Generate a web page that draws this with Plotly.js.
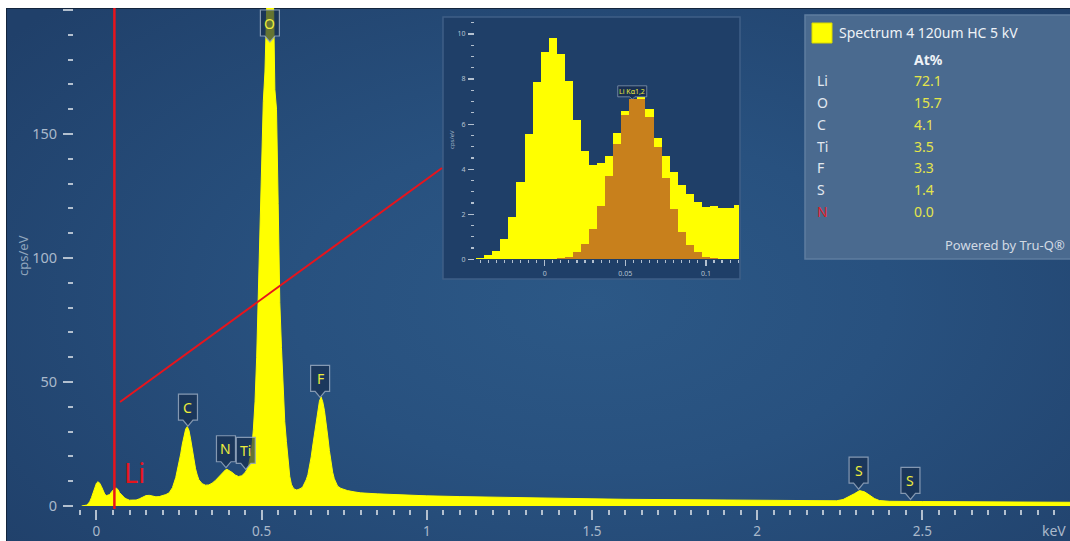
<!DOCTYPE html>
<html>
<head>
<meta charset="utf-8">
<script src="https://cdn.plot.ly/plotly-3.0.1.min.js"></script>
<style>
  html, body { margin: 0; padding: 0; background: #ffffff; }
  #panel {
    position: absolute; left: 6px; top: 8px; width: 1064px; height: 533px;
    box-sizing: border-box; border-left: 1px solid #13253d; border-top: 1px solid #13253d;
    background: radial-gradient(ellipse 70% 80% at 55% 55%, #2c5886 0%, #28517f 40%, #20406a 100%);
  }
  #chart { position: absolute; left: 0; top: 0; width: 1070px; height: 541px; }
</style>
</head>
<body>
<div id="panel"></div>
<div id="chart"></div>
<script>
// EDS spectrum, energy in keV and intensity in cps/eV
const energy = [
  -0.045,-0.040,-0.035,-0.030,-0.025,-0.020,-0.015,-0.010,-0.005,0.000,
  0.005,0.010,0.015,0.020,0.025,0.030,0.035,0.040,0.045,0.050,
  0.055,0.060,0.065,0.070,0.075,0.080,0.085,0.090,0.095,0.100,
  0.105,0.110,0.115,0.120,0.130,0.140,0.150,0.160,0.170,0.180,
  0.190,0.200,0.210,0.220,0.230,0.240,0.250,0.255,0.260,0.265,
  0.270,0.275,0.280,0.285,0.290,0.295,0.300,0.305,0.310,0.320,
  0.330,0.340,0.350,0.360,0.370,0.380,0.390,0.395,0.400,0.410,
  0.420,0.430,0.440,0.450,0.455,0.460,0.465,0.470,0.475,0.480,
  0.485,0.490,0.495,0.500,0.505,0.510,0.515,0.520,0.525,0.530,
  0.535,0.540,0.545,0.550,0.555,0.560,0.565,0.570,0.575,0.580,
  0.585,0.590,0.595,0.600,0.605,0.610,0.615,0.620,0.625,0.630,
  0.635,0.640,0.645,0.650,0.655,0.660,0.665,0.670,0.675,0.680,
  0.685,0.690,0.695,0.700,0.705,0.710,0.715,0.720,0.725,0.730,
  0.740,0.750,0.760,0.780,0.800,0.850,0.900,0.950,1.000,1.100,
  1.200,1.300,1.400,1.500,1.600,1.700,1.800,1.900,2.000,2.100,
  2.200,2.240,2.260,2.280,2.295,2.310,2.325,2.340,2.355,2.370,
  2.400,2.500,2.600,2.700,2.800,2.950
];
const cps = [
  0.00,0.07,0.19,0.37,0.89,1.86,3.45,5.55,7.86,9.22,
  9.81,9.13,7.91,6.18,4.81,4.19,4.26,4.59,5.59,6.60,
  7.10,7.19,6.66,5.37,4.59,3.86,3.30,2.90,2.56,2.34,
  2.38,2.29,2.29,2.41,2.9,3.6,4.2,4.3,4.0,3.7,
  3.8,4.1,4.6,5.3,7.4,11.5,17.5,21,25,28.5,
  31,32,30.5,27,23,18.5,15,12.5,10.6,9.0,
  8.4,8.5,9.2,10.3,11.8,13.2,14.5,14.8,14.5,13.6,
  12.5,11.9,12.2,13.5,14.6,16,19.5,23,31,42,
  60,84,108,134,163,175,212,238,248,240,
  212,168,160,122,82,64,46,34,26,18,
  12,8.8,7.4,6.8,6.5,6.6,6.8,7.2,7.9,9.0,
  10.6,12.6,15.8,19.8,24.6,29.4,34,38.5,42.3,44,
  42,38.6,34,28.2,22.4,17.3,13.6,11.0,9.2,8.0,
  7.1,6.6,6.2,5.7,5.3,4.9,4.6,4.3,4.1,3.8,
  3.5,3.3,3.1,2.9,2.7,2.6,2.4,2.3,2.2,2.1,
  2.0,2.1,2.6,3.8,5.0,6.2,5.7,4.4,3.0,2.2,
  1.9,1.8,1.7,1.6,1.6,1.5
];

// Fitted Li K-alpha component (5 eV channels)
const liFitEnergy = [
  0.000,0.005,0.010,0.015,0.020,0.025,0.030,0.035,0.040,0.045,
  0.050,0.055,0.060,0.065,0.070,0.075,0.080,0.085,0.090,0.095,
  0.100,0.105,0.110,0.115,0.120
];
const liFit = [
  0.01,0.02,0.04,0.12,0.31,0.68,1.35,2.37,3.70,5.12,
  6.41,7.10,7.10,6.30,5.00,3.59,2.22,1.23,0.64,0.31,
  0.12,0.04,0.02,0.01,0.00
];
const liKaEnergy = 0.0543;

// Peak markers
const lineLabels = ['C', 'N', 'Ti', 'O', 'F', 'S', 'S'];
const lineEnergies = [0.277, 0.392, 0.452, 0.525, 0.677, 2.307, 2.464];

// Quantification result
const spectrumName = 'Spectrum 4 120um HC 5 kV';
const quantElements = ['Li', 'O', 'C', 'Ti', 'F', 'S', 'N'];
const atPercent = [72.1, 15.7, 4.1, 3.5, 3.3, 1.4, 0.0];
const flaggedElements = ['N'];

// ---- geometry ----
const W = 1070, H = 541;
const M = { l: 74, r: 0, t: 8, b: 32 };
const plotW = W - M.l - M.r;
const plotH = H - M.t - M.b;
const pxX = px => (px - M.l) / plotW;
const pxY = py => (H - M.b - py) / plotH;

const yMax = 200.8;
const xRange = [-0.068, 2.947];
const insetX = [-0.0432, 0.1205];
const insetY = [0, 10.62];

const FONT = 'Noto Sans, Open Sans, sans-serif';
const TICK_COL = '#b3c0cf';
const LABEL_COL = '#aab9cb';
const PEAK_TXT = '#ecec3c';
const BOX_FILL = 'rgba(22,44,76,0.66)';
const BOX_LINE = 'rgba(150,168,190,0.85)';

function specAt(e) {
  for (let i = 1; i < energy.length; i++) {
    if (energy[i] >= e) {
      const t = (e - energy[i - 1]) / (energy[i] - energy[i - 1]);
      return cps[i - 1] + t * (cps[i] - cps[i - 1]);
    }
  }
  return cps[cps.length - 1];
}

// callout: box with a notch, in pixel units relative to the anchor point (y up)
function calloutPath(w, h, nw, nh, shift) {
  const hw = w / 2, b = shift + nh, t = shift + nh + h;
  return `M 0 ${shift} L ${-nw} ${b} L ${-hw} ${b} L ${-hw} ${t} L ${hw} ${t} L ${hw} ${b} L ${nw} ${b} Z`;
}

const shapes = [];
const annotations = [];

// inset frame
shapes.push({
  type: 'rect', xref: 'paper', yref: 'paper', layer: 'below',
  x0: pxX(443), x1: pxX(740), y0: pxY(279), y1: pxY(17),
  fillcolor: '#1f3f68', line: { color: '#3f5f86', width: 1.5 }
});
// results box
shapes.push({
  type: 'rect', xref: 'paper', yref: 'paper', layer: 'below',
  x0: pxX(805), x1: pxX(1071), y0: pxY(259), y1: pxY(15),
  fillcolor: '#4a6a8f', line: { color: '#5f7da0', width: 1.5 }
});
shapes.push({
  type: 'rect', xref: 'paper', yref: 'paper', layer: 'above',
  x0: pxX(812), x1: pxX(832), y0: pxY(43), y1: pxY(23),
  fillcolor: '#ffff00', line: { color: '#d8d800', width: 1 }
});

// Li K-alpha marker line and link to the zoomed view
shapes.push({
  type: 'line', xref: 'x', yref: 'paper', layer: 'above',
  x0: liKaEnergy, x1: liKaEnergy, y0: 0, y1: 1,
  line: { color: '#e8141c', width: 2.5 }
});
shapes.push({
  type: 'line', xref: 'paper', yref: 'paper', layer: 'above',
  x0: pxX(120), y0: pxY(402), x1: pxX(442), y1: pxY(168),
  line: { color: '#e8141c', width: 2 }
});

annotations.push({
  xref: 'x', yref: 'paper', x: liKaEnergy, y: pxY(472), xanchor: 'left', yanchor: 'middle',
  xshift: 8, text: 'Li', showarrow: false,
  font: { family: FONT, size: 27, color: '#e8141c' }
});

// element peak markers
const BW = 19, BH = 26, NW = 5, NH = 6;
lineLabels.forEach((lab, i) => {
  const e = lineEnergies[i];
  const h = specAt(e);
  let anchor, shift;
  if (h > yMax) { anchor = yMax; shift = -34; } else { anchor = h; shift = 2; }
  shapes.push({
    type: 'path', xref: 'x', yref: 'y', layer: 'above',
    xsizemode: 'pixel', ysizemode: 'pixel', xanchor: e, yanchor: anchor,
    path: calloutPath(BW, BH, NW, NH, shift),
    fillcolor: BOX_FILL, line: { color: BOX_LINE, width: 1.2 }
  });
  annotations.push({
    xref: 'x', yref: 'y', x: e, y: anchor, yshift: shift + NH + BH / 2,
    xanchor: 'center', yanchor: 'middle', text: lab, showarrow: false,
    font: { family: FONT, size: 14, color: PEAK_TXT }
  });
});

// Li K-alpha marker in the zoomed view
const liPeak = Math.max(...liFit);
shapes.push({
  type: 'path', xref: 'x2', yref: 'y2', layer: 'above',
  xsizemode: 'pixel', ysizemode: 'pixel', xanchor: liKaEnergy, yanchor: liPeak,
  path: calloutPath(29, 11, 2.5, 2.5, 0),
  fillcolor: 'rgba(22,44,76,0.8)', line: { color: BOX_LINE, width: 0.8 }
});
annotations.push({
  xref: 'x2', yref: 'y2', x: liKaEnergy, y: liPeak, yshift: 8,
  xanchor: 'center', yanchor: 'middle', text: 'Li Kα1,2', showarrow: false,
  font: { family: FONT, size: 7, color: PEAK_TXT }
});

// axis titles
annotations.push({
  xref: 'paper', yref: 'paper', x: pxX(23), y: pxY(256), textangle: -90,
  xanchor: 'center', yanchor: 'middle', text: 'cps/eV', showarrow: false,
  font: { family: FONT, size: 13, color: '#8fa4bc' }
});
annotations.push({
  xref: 'paper', yref: 'paper', x: pxX(1068), y: pxY(530),
  xanchor: 'right', yanchor: 'middle', text: 'keV', showarrow: false,
  font: { family: FONT, size: 14, color: LABEL_COL }
});
annotations.push({
  xref: 'paper', yref: 'paper', x: pxX(452), y: pxY(140), textangle: -90,
  xanchor: 'center', yanchor: 'middle', text: 'cps/eV', showarrow: false,
  font: { family: FONT, size: 6, color: '#9fb1c5' }
});

// results table
annotations.push({
  xref: 'paper', yref: 'paper', x: pxX(837), y: pxY(33),
  xanchor: 'left', yanchor: 'middle', text: spectrumName, showarrow: false,
  font: { family: FONT, size: 14, color: '#eef2f7' }
});
annotations.push({
  xref: 'paper', yref: 'paper', x: pxX(912), y: pxY(59),
  xanchor: 'left', yanchor: 'middle', text: '<b>At%</b>', showarrow: false,
  font: { family: FONT, size: 14, color: '#eef2f7' }
});
quantElements.forEach((el, i) => {
  const py = 81 + i * 21.7;
  const flagged = flaggedElements.includes(el);
  annotations.push({
    xref: 'paper', yref: 'paper', x: pxX(815), y: pxY(py),
    xanchor: 'left', yanchor: 'middle', text: el, showarrow: false,
    font: { family: FONT, size: 14, color: flagged ? '#e3202a' : '#e2e8ef' }
  });
  annotations.push({
    xref: 'paper', yref: 'paper', x: pxX(912), y: pxY(py),
    xanchor: 'left', yanchor: 'middle', text: atPercent[i].toFixed(1), showarrow: false,
    font: { family: FONT, size: 14, color: '#e4e54a' }
  });
});
annotations.push({
  xref: 'paper', yref: 'paper', x: pxX(1067), y: pxY(245),
  xanchor: 'right', yanchor: 'middle', text: 'Powered by Tru-Q®', showarrow: false,
  font: { family: FONT, size: 13, color: '#d2dae4' }
});

// ---- traces ----
const inE = [], inC = [];
energy.forEach((e, i) => { if (e >= -0.0401 && e <= 0.1201) { inE.push(e); inC.push(cps[i]); } });

const traces = [
  {
    type: 'scatter', mode: 'lines', x: energy, y: cps, xaxis: 'x', yaxis: 'y',
    fill: 'tozeroy', fillcolor: '#ffff00', line: { color: '#ffff00', width: 1 },
    hoverinfo: 'skip', showlegend: false
  },
  {
    type: 'bar', x: inE, y: inC, width: 0.005, xaxis: 'x2', yaxis: 'y2',
    marker: { color: '#ffff00', line: { width: 0 } }, hoverinfo: 'skip', showlegend: false
  },
  {
    type: 'bar', x: liFitEnergy, y: liFit, width: 0.005, xaxis: 'x2', yaxis: 'y2',
    marker: { color: '#c8801c', line: { width: 0 } }, hoverinfo: 'skip', showlegend: false
  }
];

const layout = {
  width: W, height: H, margin: M,
  paper_bgcolor: 'rgba(0,0,0,0)', plot_bgcolor: 'rgba(0,0,0,0)',
  showlegend: false, hovermode: false, barmode: 'overlay', bargap: 0,
  font: { family: FONT, color: LABEL_COL },
  xaxis: {
    range: xRange, anchor: 'free', position: 0,
    showgrid: false, zeroline: false, showline: false,
    tick0: 0, dtick: 0.5, ticks: 'outside', ticklen: 10, tickwidth: 2, tickcolor: TICK_COL,
    minor: { tick0: 0, dtick: 0.05, ticks: 'outside', ticklen: 5, tickwidth: 2, tickcolor: TICK_COL },
    ticklabelstandoff: 0,
    tickfont: { family: FONT, size: 13.5, color: LABEL_COL }
  },
  yaxis: {
    range: [0, yMax], domain: [pxY(506), 1], anchor: 'x',
    showgrid: false, zeroline: false, showline: false,
    tickmode: 'array', tickvals: [0, 50, 100, 150, 200], ticktext: ['0', '50', '100', '150', ''],
    ticks: 'outside', ticklen: 10, tickwidth: 2, tickcolor: TICK_COL,
    minor: { tickmode: 'linear', tick0: 0, dtick: 10, ticks: 'outside', ticklen: 5, tickwidth: 2, tickcolor: TICK_COL },
    ticklabelstandoff: 3,
    tickfont: { family: FONT, size: 14.5, color: LABEL_COL }
  },
  xaxis2: {
    range: insetX, domain: [pxX(475), pxX(739)], anchor: 'y2',
    showgrid: false, zeroline: false, showline: false,
    tick0: 0, dtick: 0.05, ticks: 'outside', ticklen: 6, tickwidth: 1.2, tickcolor: TICK_COL,
    minor: { tick0: 0, dtick: 0.005, ticks: 'outside', ticklen: 3, tickwidth: 1.2, tickcolor: TICK_COL },
    ticklabelstandoff: 1,
    tickfont: { family: FONT, size: 7, color: '#b6c3d2' }
  },
  yaxis2: {
    range: insetY, domain: [pxY(259.3), pxY(20)], anchor: 'x2',
    showgrid: false, zeroline: false, showline: false,
    tick0: 0, dtick: 2, ticks: 'outside', ticklen: 6, tickwidth: 1.2, tickcolor: TICK_COL,
    minor: { tick0: 0, dtick: 0.5, ticks: 'outside', ticklen: 3, tickwidth: 1.2, tickcolor: TICK_COL },
    ticklabelstandoff: 1,
    tickfont: { family: FONT, size: 7, color: '#b6c3d2' }
  },
  shapes: shapes,
  annotations: annotations
};

Plotly.newPlot('chart', traces, layout, { staticPlot: true, displayModeBar: false });
</script>
</body>
</html>
